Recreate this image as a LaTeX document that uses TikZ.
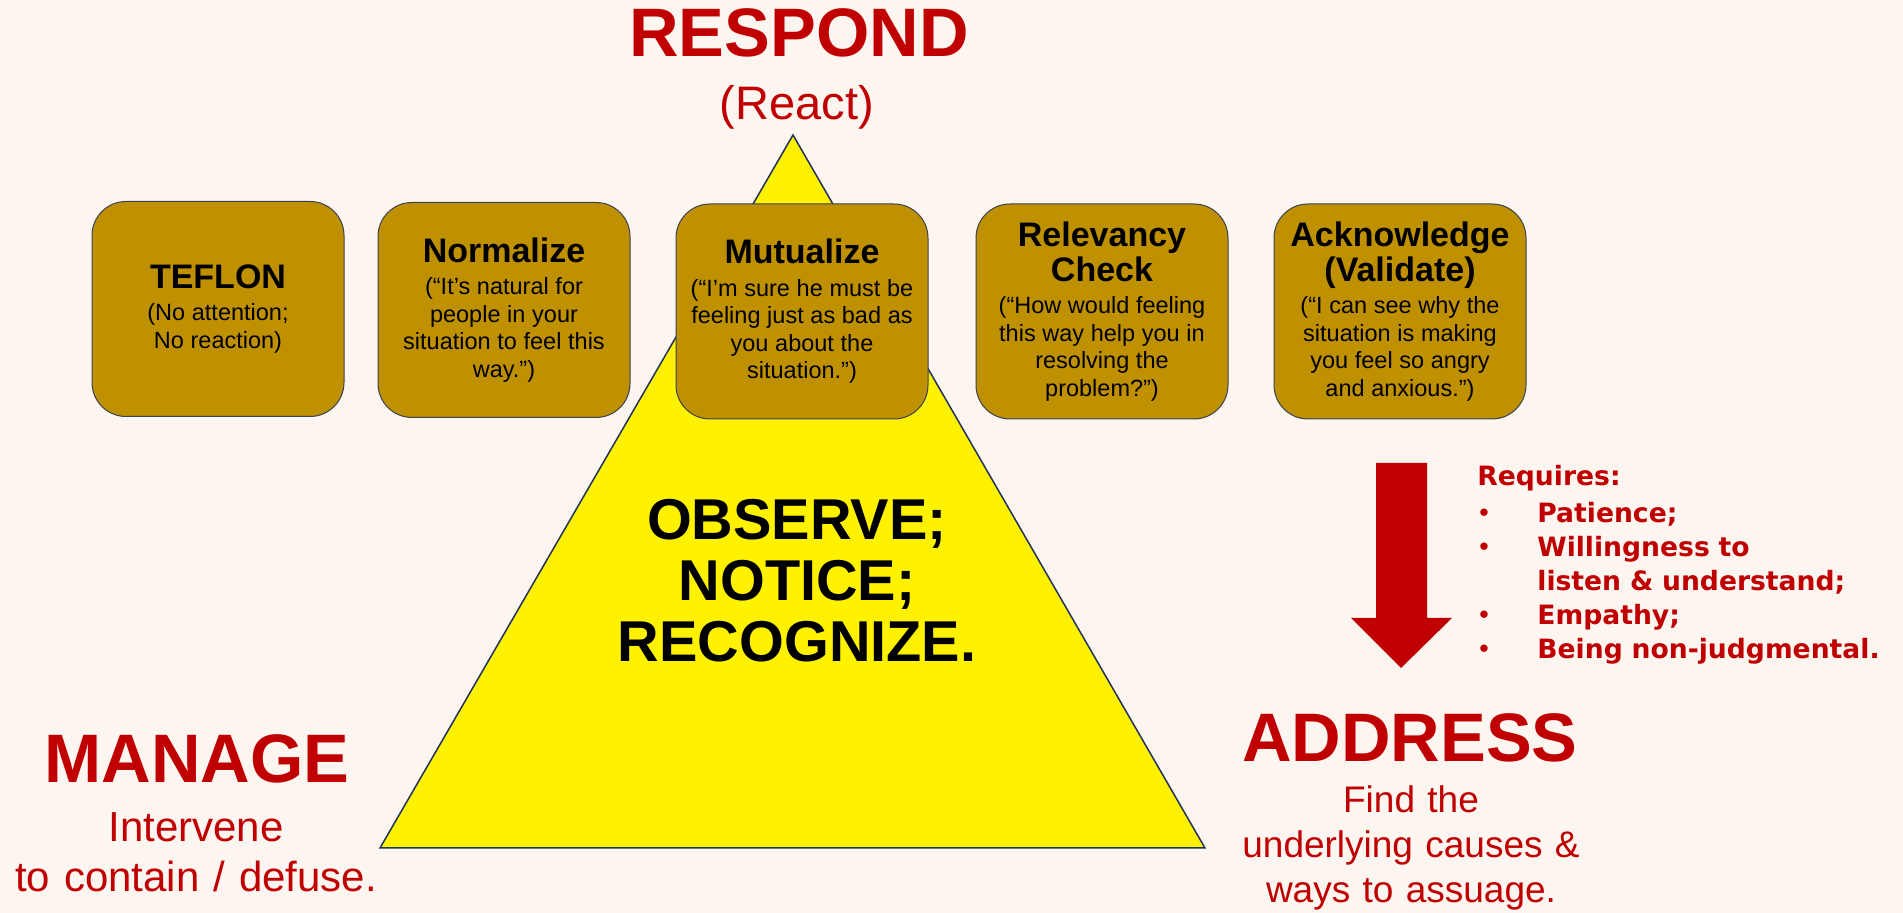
\documentclass[tikz,border=0pt]{standalone}
\usepackage{fontspec}
\setmainfont{Liberation Sans}
\newfontfamily\reqfont{DejaVu Sans}
\usepackage{xcolor}

\definecolor{bgcream}{HTML}{FDF5F0}
\definecolor{darkred}{HTML}{C00000}
\definecolor{gold}{HTML}{BF9000}
\definecolor{cardline}{HTML}{3B4252}
\definecolor{triline}{HTML}{22335A}

\newcommand{\cardtext}[2]{{\fontsize{17}{17.5}\selectfont\bfseries #1\par}\vspace{2.5pt}{\fontsize{11.75}{13.75}\selectfont #2\par}}
\newcommand{\reqdot}{\makebox[30pt][l]{\raisebox{1.2pt}{\fontsize{10.5}{10.5}\selectfont •}}}

\begin{document}
\begin{tikzpicture}[x=0.5pt, y=-0.5pt,
    card/.style={draw=cardline, line width=0.5pt, fill=gold, rounded corners=17pt, text width=120pt, align=center, inner sep=0pt, minimum width=126pt, minimum height=107.5pt},
    bigword/.style={darkred, inner sep=0pt, anchor=base, font=\fontsize{34.3}{36}\selectfont\bfseries},
    subword/.style={darkred, inner sep=0pt, anchor=base, text width=230pt, align=center}]
    \useasboundingbox (0,0) rectangle (1903,913);
    \fill[bgcream] (0,0) rectangle (1903,913);
    % Triangle
    \filldraw[fill=yellow, draw=triline, line width=0.75pt] (793,135) -- (1205,848) -- (380,848) -- cycle;
    \node[inner sep=0pt, anchor=base, text width=250pt, align=center, font=\fontsize{28.8}{30.5}\selectfont\bfseries] (observe) at (797,540) {OBSERVE;\\ NOTICE;\\ RECOGNIZE.};
    % Cards
    \node[card] (teflon) at (218,309) {\cardtext{TEFLON}{(No attention;\\ No reaction)}};
    \node[card] (normalize) at (504,310) {\cardtext{Normalize}{(“It’s natural for\\ people in your\\ situation to feel this\\ way.”)}};
    \node[card] (mutualize) at (802,311.5) {\cardtext{Mutualize}{(“I’m sure he must be\\ feeling just as bad as\\ you about the\\ situation.”)}};
    \node[card] (relevancy) at (1102,311.5) {\cardtext{Relevancy\\ Check}{(“How would feeling\\ this way help you in\\ resolving the\\ problem?”)}};
    \node[card] (acknowledge) at (1400,311.5) {\cardtext{Acknowledge\\ (Validate)}{(“I can see why the\\ situation is making\\ you feel so angry\\ and anxious.”)}};
    % Corners of the triangle
    \node[bigword] (respond) at (799,57) {RESPOND};
    \node[subword, font=\fontsize{23.5}{26}\selectfont] (react) at (797,120) {(React)};
    \node[bigword] (manage) at (197,783) {MANAGE};
    \node[subword, font=\fontsize{21}{25}\selectfont] (intervene) at (196,842) {Intervene\\ to contain / defuse.};
    \node[bigword] (address) at (1410,762) {ADDRESS};
    \node[subword, font=\fontsize{18.5}{22.5}\selectfont] (findcause) at (1411,813) {Find the\\ underlying causes \&\\ ways to assuage.};
    % Arrow and list
    \fill[darkred] (1376,463) -- (1427,463) -- (1427,618) -- (1452,618) -- (1401,668) -- (1351,618) -- (1376,618) -- cycle;
    \node[darkred, inner sep=0pt, anchor=base west, text width=240pt, align=left, font=\reqfont\bfseries\fontsize{13.3}{17}\selectfont] (requires) at (1477,486)
        {Requires:\\[1.5pt]
         \reqdot Patience;\\
         \reqdot Willingness to\\
         \hspace*{30pt}listen \& understand;\\
         \reqdot Empathy;\\
         \reqdot Being non-judgmental.};
\end{tikzpicture}
\end{document}
